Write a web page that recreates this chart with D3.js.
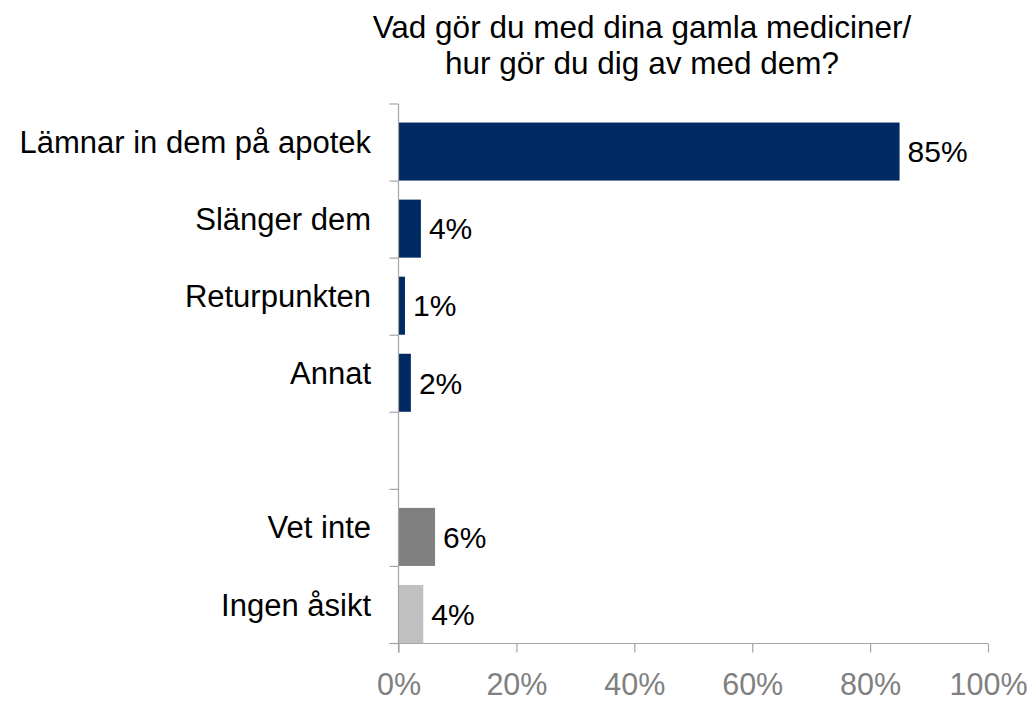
<!DOCTYPE html>
<html>
<head>
<meta charset="utf-8">
<script src="https://cdn.jsdelivr.net/npm/d3@7"></script>
<style>
  body { margin: 0; background: #fff; }
  text { font-family: "Liberation Sans", Arial, sans-serif; }
</style>
</head>
<body>
<svg id="chart" width="1034" height="704"></svg>
<script>
// chart data (the empty string is the blank row between "Annat" and "Vet inte")
var categories = ["Lämnar in dem på apotek", "Slänger dem", "Returpunkten", "Annat", "", "Vet inte", "Ingen åsikt"];
var values = [85, 3.8, 1.1, 2.1, null, 6.2, 4.2];
var valueLabels = ["85%", "4%", "1%", "2%", "", "6%", "4%"];
var barGroups = ["svar", "svar", "svar", "svar", "", "vetinte", "ingen"];
var xTicks = [0, 20, 40, 60, 80, 100];
var titleLines = ["Vad gör du med dina gamla mediciner/", "hur gör du dig av med dem?"];

var colors = { svar: "#002B62", vetinte: "#808080", ingen: "#C0C0C0" };
var axisColor = "#A6A6A6";

var svg = d3.select("#chart");
var plotLeft = 398.5, plotRight = 988, plotTop = 104, plotBottom = 643.5;

var x = d3.scaleLinear().domain([0, 100]).range([plotLeft, plotRight]);
var y = d3.scaleBand().domain(d3.range(categories.length)).range([plotTop, plotBottom]).padding(0);
var step = y.bandwidth();
var barH = step * 0.753;

// title
svg.append("g").selectAll("text")
    .data(titleLines)
    .enter().append("text")
    .attr("x", 642)
    .attr("y", function (d, i) { return 38 + i * 36; })
    .attr("text-anchor", "middle")
    .style("font-size", "31.5px")
    .style("fill", "#000")
    .text(function (d) { return d; });

// bars
var rows = categories.map(function (c, i) {
    return { cat: c, value: values[i], label: valueLabels[i], group: barGroups[i], i: i };
}).filter(function (d) { return d.value !== null; });

svg.append("g").selectAll("rect")
    .data(rows)
    .enter().append("rect")
    .attr("x", x(0))
    .attr("y", function (d) { return y(d.i) + step - barH - 0.5; })
    .attr("width", function (d) { return x(d.value) - x(0); })
    .attr("height", barH)
    .style("fill", function (d) { return colors[d.group]; });

// value labels
svg.append("g").selectAll("text")
    .data(rows)
    .enter().append("text")
    .attr("x", function (d) { return x(d.value) + 8; })
    .attr("y", function (d) { return y(d.i) + step - barH / 2 - 0.5; })
    .attr("dy", "0.36em")
    .style("font-size", "30px")
    .style("fill", "#000")
    .text(function (d) { return d.label; });

// category labels
svg.append("g").selectAll("text")
    .data(categories)
    .enter().append("text")
    .attr("x", 371)
    .attr("y", function (d, i) { return y(i) + step / 2; })
    .attr("dy", "0.34em")
    .attr("text-anchor", "end")
    .style("font-size", "31px")
    .style("fill", "#000")
    .text(function (d) { return d; });

// left axis line + ticks at band edges
var yEdges = d3.range(categories.length + 1).map(function (i) { return plotTop + i * step; });
var gy = svg.append("g");
gy.append("line")
    .attr("x1", plotLeft).attr("x2", plotLeft)
    .attr("y1", plotTop).attr("y2", plotBottom + 9)
    .style("stroke", axisColor).style("stroke-width", 1.2);
gy.selectAll("line.tick")
    .data(yEdges)
    .enter().append("line")
    .attr("class", "tick")
    .attr("x1", plotLeft - 9).attr("x2", plotLeft)
    .attr("y1", function (d) { return d; }).attr("y2", function (d) { return d; })
    .style("stroke", axisColor).style("stroke-width", 1.2);

// bottom axis
var xAxis = d3.axisBottom(x)
    .tickValues(xTicks)
    .tickSize(9)
    .tickSizeOuter(0)
    .tickPadding(21)
    .tickFormat(function (d) { return d + "%"; });

var gx = svg.append("g")
    .attr("transform", "translate(0," + plotBottom + ")")
    .call(xAxis);
gx.select(".domain").remove();
gx.append("line")
    .attr("x1", plotLeft - 9).attr("x2", plotRight)
    .attr("y1", 0).attr("y2", 0)
    .style("stroke", axisColor).style("stroke-width", 1.2);
gx.selectAll(".tick line").style("stroke", axisColor).style("stroke-width", 1.2);
gx.selectAll(".tick text")
    .style("font-family", "'Liberation Sans', Arial, sans-serif")
    .style("font-size", "30.5px")
    .style("fill", "#808080");
</script>
</body>
</html>
